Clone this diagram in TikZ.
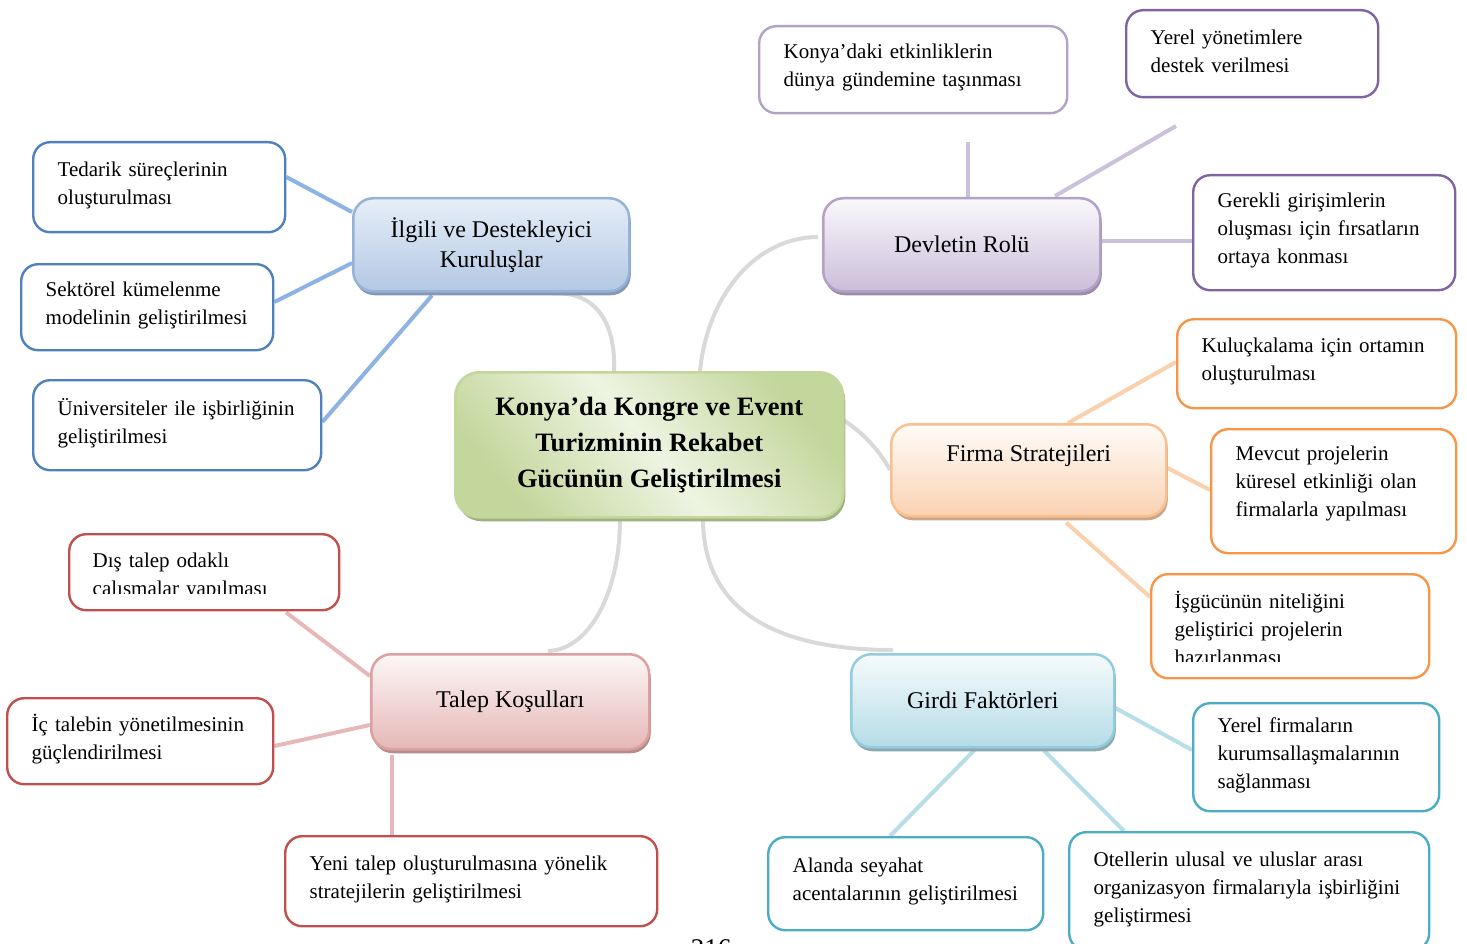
\documentclass[tikz,border=0pt]{standalone}
\usepackage{fontspec}
\setmainfont{Liberation Serif}
\usetikzlibrary{calc,shadows,backgrounds}

% leaf borders
\definecolor{bleaf}{HTML}{4F81BD}
\definecolor{pleafA}{HTML}{B3A2C7}
\definecolor{pleafB}{HTML}{8064A2}
\definecolor{oleaf}{HTML}{F79646}
\definecolor{rleaf}{HTML}{C0504D}
\definecolor{cleaf}{HTML}{4BACC6}
% connectors
\definecolor{bconn}{HTML}{8DB3E2}
\definecolor{pconn}{HTML}{CCC1DA}
\definecolor{oconn}{HTML}{FBD0AC}
\definecolor{rconn}{HTML}{E6B9B8}
\definecolor{cconn}{HTML}{B7DEE8}
\definecolor{gconn}{HTML}{D9D9D9}
% branch boxes: border, top, bottom, shadow
\definecolor{bbord}{HTML}{95B3D7}\definecolor{btop}{HTML}{E6EEF8}\definecolor{bbot}{HTML}{B3C8E3}\definecolor{bshad}{HTML}{8498B4}
\definecolor{pbord}{HTML}{B3A2C7}\definecolor{ptop}{HTML}{FAF8FC}\definecolor{pbot}{HTML}{CABED9}\definecolor{pshad}{HTML}{9A8DA9}
\definecolor{obord}{HTML}{FAC090}\definecolor{otop}{HTML}{FFFCF9}\definecolor{obot}{HTML}{FAD2B2}\definecolor{oshad}{HTML}{C9A58A}
\definecolor{rbord}{HTML}{DDA0A0}\definecolor{rtop}{HTML}{FDF7F7}\definecolor{rbot}{HTML}{E5B7B6}\definecolor{rshad}{HTML}{B48E8E}
\definecolor{cbord}{HTML}{93CDDD}\definecolor{ctop}{HTML}{F6FBFC}\definecolor{cbot}{HTML}{B5DCE7}\definecolor{cshad}{HTML}{8CA9B1}
\definecolor{gbord}{HTML}{C3D69B}\definecolor{glight}{HTML}{EEF4E2}\definecolor{gdark}{HTML}{C3D69B}\definecolor{gshad}{HTML}{A0B27F}

\newcommand\leaffont{\fontsize{21}{28}\selectfont}
\newcommand\branchfont{\fontsize{24}{30}\selectfont}
\newcommand\titlefont{\bfseries\fontsize{26.5}{36}\selectfont}
% extra space under a box's last line, lifting the text block a little
\newcommand\leafgap[1]{\par\vspace*{#1}}

\begin{document}
\begin{tikzpicture}[x=1pt,y=-1pt,
  leaf/.style={draw=#1, line width=2.4pt, fill=white, rounded corners=17pt,
    anchor=north west, inner xsep=24.5pt, inner ysep=0pt, align=left, font=\leaffont,
    execute at end node={\leafgap{4pt}}},
  leaftext/.style={anchor=north west, inner xsep=24.5pt, inner ysep=0pt, align=left, font=\leaffont},
  branch/.style n args={4}{draw=#1, line width=2.5pt, rounded corners=20pt,
    top color=#2, bottom color=#3,
    general shadow={fill=#4, shadow xshift=1.5pt, shadow yshift=-4pt},
    anchor=north west, align=center, inner sep=0pt, font=\branchfont},
  conn/.style={line width=4pt, draw=#1},
  curve/.style={line width=4pt, draw=gconn}
]
\useasboundingbox (0,0) rectangle (1467,944);

% ---- central topic
\node[draw=gbord, line width=2.5pt, rounded corners=24pt,
      top color=gdark, bottom color=gdark, middle color=glight, shading angle=-50,
      general shadow={fill=gshad, shadow xshift=2pt, shadow yshift=-4pt},
      anchor=north west, minimum width=388, minimum height=145, inner sep=0pt,
      align=center, font=\titlefont] (ana) at (454,371)
  {Konya’da Kongre ve Event\\Turizminin Rekabet\\Gücünün Geliştirilmesi};

% ---- main branches
\node[branch={bbord}{btop}{bbot}{bshad}, minimum width=276, minimum height=93] (ilgili) at (352,197)
  {İlgili ve Destekleyici\\Kuruluşlar};
\node[branch={pbord}{ptop}{pbot}{pshad}, minimum width=277, minimum height=93] (devlet) at (822,197)
  {Devletin Rolü};
\node[branch={obord}{otop}{obot}{oshad}, minimum width=275, minimum height=92] (firma) at (890,423)
  {Firma Stratejileri\\[4pt]~};
\node[branch={rbord}{rtop}{rbot}{rshad}, minimum width=278, minimum height=95] (talep) at (370,653)
  {Talep Koşulları};
\node[branch={cbord}{ctop}{cbot}{cshad}, minimum width=263, minimum height=93] (girdi) at (850,653)
  {Girdi Faktörleri};

% ---- İlgili ve Destekleyici Kuruluşlar
\node[leaf=bleaf, minimum width=252, minimum height=90, text width=203] (ted) at (32,141)
  {Tedarik~süreçlerinin\\oluşturulması};
\node[leaf=bleaf, minimum width=252, minimum height=86, text width=203] (sek) at (20,263)
  {Sektörel~kümelenme\\modelinin~geliştirilmesi};
\node[leaf=bleaf, minimum width=288, minimum height=90, text width=239] (uni) at (32,379)
  {Üniversiteler~ile~işbirliğinin\\geliştirilmesi};

% ---- Devletin Rolü
\node[leaf=pleafA, minimum width=308, minimum height=87, text width=259] (konya) at (758,25)
  {Konya’daki~etkinliklerin\\dünya~gündemine~taşınması};
\node[leaf=pleafB, minimum width=252, minimum height=87, text width=203] (yerel) at (1125,9)
  {Yerel~yönetimlere\\destek~verilmesi};
\node[leaf=pleafB, minimum width=262, minimum height=115, text width=213] (gerek) at (1192,174)
  {Gerekli~girişimlerin\\oluşması~için~fırsatların\\ortaya~konması};

% ---- Firma Stratejileri
\node[leaf=oleaf, minimum width=279, minimum height=89, text width=230] (kulu) at (1176,318)
  {Kuluçkalama~için~ortamın\\oluşturulması};
\node[leaf=oleaf, minimum width=245, minimum height=124, text width=196,
      execute at end node={\leafgap{12pt}}] (mevcut) at (1210,428)
  {Mevcut~projelerin\\küresel~etkinliği~olan\\firmalarla~yapılması};
\node[leaf=oleaf, minimum width=278, minimum height=104, text width=229] (isgucu) at (1150,573) {};
\begin{scope}
  \clip (1150,573) rectangle (1428,661);
  \node[leaftext, minimum width=278, minimum height=104, text width=229] (isgucu-t) at (1150,576)
    {İşgücünün~niteliğini\\geliştirici~projelerin\\hazırlanması};
\end{scope}

% ---- Talep Koşulları
\node[leaf=rleaf, minimum width=270, minimum height=76, text width=221] (dis) at (68,533) {};
\begin{scope}
  \clip (68,533) rectangle (338,593);
  \node[leaftext, minimum width=270, minimum height=76, text width=221] (dis-t) at (68,538)
    {Dış~talep~odaklı\\çalışmalar~yapılması};
\end{scope}
\node[leaf=rleaf, minimum width=266, minimum height=86, text width=217] (ic) at (6,697)
  {İç~talebin~yönetilmesinin\\güçlendirilmesi};
\node[leaf=rleaf, minimum width=372, minimum height=90, text width=323] (yeni) at (284,835)
  {Yeni~talep~oluşturulmasına~yönelik\\stratejilerin~geliştirilmesi};

% ---- Girdi Faktörleri
\node[leaf=cleaf, minimum width=246, minimum height=108, text width=197] (yfirma) at (1192,702)
  {Yerel~firmaların\\kurumsallaşmalarının\\sağlanması};
\node[leaf=cleaf, minimum width=275, minimum height=93, text width=226] (alanda) at (767,836)
  {Alanda~seyahat\\acentalarının~geliştirilmesi};
\node[leaf=cleaf, minimum width=360, minimum height=118, text width=311] (otel) at (1068,831)
  {Otellerin~ulusal~ve~uluslar~arası\\organizasyon~firmalarıyla~işbirliğini\\geliştirmesi};

% ---- page number
\node[anchor=base, font=\fontsize{27}{30}\selectfont, inner sep=0pt] (sayfa) at (711,957) {216};

\coordinate (konyaUc) at (968,142);
\coordinate (yerelUc) at (1176,126);

% ---- connectors
\begin{pgfonlayer}{background}
  % central curves
  \draw[curve] ($(ana.north west)+(160,0)$) .. controls (616,322) and (595,291) .. ($(ilgili.south west)+(201,1)$);
  \draw[curve] ($(ana.north west)+(246,0)$) .. controls (708,292) and (758,237) .. ($(devlet.north west)+(-4,40)$);
  \draw[curve] ($(ana.north east)+(-3,48)$) .. controls (860,430) and (878,448) .. ($(firma.north west)+(0,47)$);
  \draw[curve] ($(ana.south west)+(166,0)$) .. controls (620,595) and (588,650) .. ($(talep.north west)+(178,-2)$);
  \draw[curve] ($(ana.south west)+(249,0)$) .. controls (703,625) and (800,650) .. ($(girdi.north west)+(43,-3)$);
  % İlgili ve Destekleyici Kuruluşlar
  \draw[conn=bconn] ($(ted.north east)+(0,36)$) -- ($(ilgili.north west)+(0,15)$);
  \draw[conn=bconn] ($(sek.north east)+(0,39)$) -- ($(ilgili.north west)+(0,66)$);
  \draw[conn=bconn] ($(uni.north east)+(0,43)$) -- ($(ilgili.south west)+(80,3)$);
  % Devletin Rolü
  \draw[conn=pconn] ($(devlet.north west)+(146,0)$) -- (konyaUc);
  \draw[conn=pconn] ($(devlet.north west)+(233,-1)$) -- (yerelUc);
  \draw[conn=pconn] ($(devlet.north east)+(0,44)$) -- ($(gerek.north west)+(0,67)$);
  % Firma Stratejileri
  \draw[conn=oconn] ($(firma.north west)+(178,0)$) -- ($(kulu.north west)+(0,44)$);
  \draw[conn=oconn] ($(firma.north east)+(0,45)$) -- ($(mevcut.north west)+(0,62)$);
  \draw[conn=oconn] ($(firma.south west)+(176,5)$) -- ($(isgucu.north west)+(0,24)$);
  % Talep Koşulları
  \draw[conn=rconn] ($(dis.south west)+(218,1)$) -- ($(talep.north west)+(0,23)$);
  \draw[conn=rconn] ($(ic.north east)+(0,49)$) -- ($(talep.north west)+(0,72)$);
  \draw[conn=rconn] ($(talep.south west)+(22,4)$) -- ($(yeni.north west)+(108,0)$);
  % Girdi Faktörleri
  \draw[conn=cconn] ($(girdi.north east)+(0,55)$) -- ($(yfirma.north west)+(0,48)$);
  \draw[conn=cconn] ($(girdi.south west)+(126,0)$) -- ($(alanda.north west)+(123,0)$);
  \draw[conn=cconn] ($(girdi.south west)+(194,2)$) -- ($(otel.north west)+(56,0)$);
\end{pgfonlayer}
\end{tikzpicture}
\end{document}
